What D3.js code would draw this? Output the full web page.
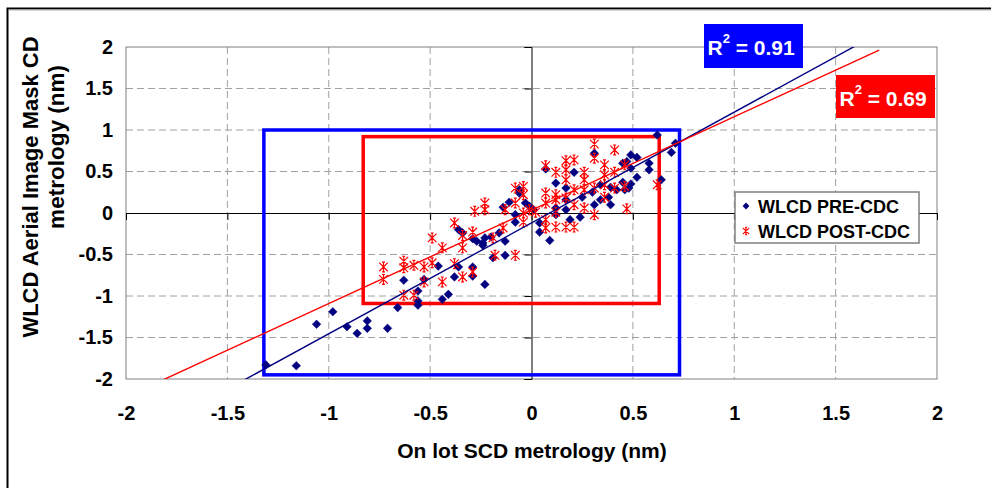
<!DOCTYPE html>
<html>
<head>
<meta charset="utf-8">
<script src="https://cdn.jsdelivr.net/npm/d3@7/dist/d3.min.js"></script>
<style>
  html, body { margin: 0; padding: 0; background: #fff; }
  svg { display: block; font-family: "Liberation Sans", Arial, sans-serif; }
  text { white-space: pre; }
</style>
</head>
<body>
<svg id="chart" width="991" height="488"></svg>
<script>
// ---------------- DATA ----------------
const xTicks = [-2, -1.5, -1, -0.5, 0, 0.5, 1, 1.5, 2];
const yTicks = [-2, -1.5, -1, -0.5, 0, 0.5, 1, 1.5, 2];

// WLCD PRE-CDC (navy diamonds)
const preX = [-1.31,-1.16,-1.06,-0.98,-0.91,-0.86,-0.81,-0.81,-0.71,-0.66,-0.63,-0.56,-0.56,-0.56,-0.53,-0.46,-0.44,-0.41,-0.38,-0.36,-0.29,-0.29,-0.23,-0.36,-0.34,-0.29,-0.27,-0.24,-0.23,-0.20,-0.16,-0.24,-0.13,-0.19,-0.13,-0.06,-0.11,-0.14,-0.03,-0.01,-0.08,-0.08,0.04,0.04,0.09,0.12,0.12,-0.06,0.07,0.12,0.17,0.17,0.17,0.19,0.24,0.21,0.25,0.30,0.31,0.31,0.34,0.34,0.38,0.39,0.39,0.42,0.45,0.46,0.48,0.49,0.45,0.47,0.49,0.52,0.49,0.52,0.58,0.58,0.64,0.62,0.71,0.69,0.01];
const preY = [-1.83,-1.84,-1.34,-1.19,-1.37,-1.45,-1.30,-1.39,-1.39,-1.14,-0.81,-0.94,-1.06,-1.11,-0.80,-0.64,-1.04,-0.98,-0.77,-0.65,-0.65,-0.76,-0.86,-0.20,-0.24,-0.31,-0.34,-0.36,-0.30,-0.29,-0.24,-0.39,-0.51,-0.54,-0.34,0.24,0.13,0.07,0.12,0.08,-0.02,-0.11,-0.12,-0.23,-0.33,0.06,-0.02,0.28,0.53,0.36,0.30,0.16,0.04,-0.08,-0.05,0.49,0.19,0.25,0.10,0.72,0.34,0.16,0.19,0.31,0.10,0.28,0.37,0.28,0.30,0.35,0.60,0.62,0.70,0.67,0.54,0.43,0.60,0.52,0.40,0.94,0.84,0.73,0.04];

// WLCD POST-CDC (red stars)
const postX = [-0.73,-0.73,-0.63,-0.63,-0.63,-0.58,-0.58,-0.53,-0.53,-0.49,-0.49,-0.44,-0.44,-0.38,-0.34,-0.29,-0.38,-0.34,-0.29,-0.34,-0.28,-0.23,-0.23,-0.19,-0.18,-0.13,-0.14,-0.08,-0.04,-0.04,-0.08,-0.01,0.02,-0.04,-0.04,-0.08,0.07,0.07,0.12,0.07,0.07,0.12,0.17,0.21,0.07,0.12,0.17,0.21,0.17,0.17,0.26,0.26,0.31,0.41,0.31,0.36,0.41,0.46,0.36,0.36,0.41,0.46,0.62,0.12,0.17,0.21,0.26,0.31,0.36,0.21,0.26,0.31,0.47,0.12];
const postY = [-0.65,-0.80,-0.58,-0.66,-0.99,-0.63,-0.99,-0.65,-0.83,-0.60,-0.30,-0.42,-0.83,-0.61,-0.77,-0.71,-0.12,-0.27,-0.23,-0.42,0.02,0.12,0.04,-0.30,-0.51,0.04,-0.18,0.30,0.32,0.22,0.12,0.04,0.01,0.00,-0.11,-0.51,0.24,0.12,0.16,-0.08,-0.18,-0.17,-0.17,-0.17,0.57,0.49,0.63,0.64,0.52,0.40,0.49,0.40,0.83,0.76,0.66,0.58,0.49,0.58,0.46,0.34,0.30,0.32,0.34,0.22,0.18,0.28,0.28,0.30,0.19,0.10,0.06,-0.02,0.05,0.01];

// Linear trendlines (slope, intercept) and R² labels
const preFit = [1.335, -0.12];
const postFit = [1.125, 0.034];
const fitRange = [-1.95, 1.715];
const preR2 = "0.91";
const postR2 = "0.69";

// Highlight boxes in data units [x0, x1, y0, y1]
const preBox = [-1.32, 0.73, -1.95, 1.0];
const postBox = [-0.83, 0.63, -1.09, 0.92];

const seriesNames = ["WLCD PRE-CDC", "WLCD POST-CDC"];

// ---------------- DRAW ----------------
const svg = d3.select("#chart");
const L = 126, R = 937, T = 47, B = 379;
const x = d3.scaleLinear().domain([-2, 2]).range([L, R]);
const y = d3.scaleLinear().domain([-2, 2]).range([B, T]);
const NAVY = "#000080", RED = "#FF0000", BLUE = "#0000FF";

svg.append("rect").attr("width", 991).attr("height", 488).attr("fill", "#fff");

// outer frame
svg.append("path").attr("d", "M7.5,488 V8.5 H991").attr("fill", "none").attr("stroke", "#000").attr("stroke-width", 2);
svg.append("line").attr("x1", 8.5).attr("x2", 991).attr("y1", 10).attr("y2", 10).attr("stroke", "#b0b0b0").attr("stroke-width", 1);

// gridlines
const grid = svg.append("g");
xTicks.filter(v => Math.abs(v) !== 2 && v !== 0).forEach(v => {
  grid.append("line").attr("x1", x(v)).attr("x2", x(v)).attr("y1", T).attr("y2", B)
    .attr("stroke", "#a0a0a0").attr("stroke-width", 1).attr("stroke-dasharray", "7,4");
});
yTicks.filter(v => Math.abs(v) !== 2 && v !== 0).forEach(v => {
  grid.append("line").attr("x1", L).attr("x2", R).attr("y1", y(v)).attr("y2", y(v))
    .attr("stroke", "#a0a0a0").attr("stroke-width", 1).attr("stroke-dasharray", "7,4");
});

// plot border
svg.append("rect").attr("x", L).attr("y", T).attr("width", R - L).attr("height", B - T)
  .attr("fill", "none").attr("stroke", "#808080").attr("stroke-width", 1);

// zero axes with ticks
const xAxisZero = d3.axisBottom(x).tickValues(xTicks).tickSize(7).tickFormat("");
const gx0 = svg.append("g").attr("transform", `translate(0,${y(0)})`).call(xAxisZero);
gx0.selectAll("path,line").attr("stroke", "#000").attr("stroke-width", 1);
const yAxisZero = d3.axisLeft(y).tickValues(yTicks).tickSize(7).tickFormat("");
const gy0 = svg.append("g").attr("transform", `translate(${x(0)},0)`).call(yAxisZero);
gy0.selectAll("path,line").attr("stroke", "#000").attr("stroke-width", 1);

// tick labels
const gxl = svg.append("g").attr("transform", `translate(0,${B})`)
  .call(d3.axisBottom(x).tickValues(xTicks).tickSize(0).tickPadding(27).tickFormat(d => String(d)));
gxl.select(".domain").remove();
gxl.selectAll("text").attr("font-size", 20).attr("font-weight", "bold").attr("fill", "#000")
  .attr("font-family", "Liberation Sans, Arial, sans-serif");
const gyl = svg.append("g").attr("transform", `translate(${L},0)`)
  .call(d3.axisLeft(y).tickValues(yTicks).tickSize(0).tickPadding(13).tickFormat(d => String(d)));
gyl.select(".domain").remove();
gyl.selectAll("text").attr("font-size", 20).attr("font-weight", "bold").attr("fill", "#000")
  .attr("font-family", "Liberation Sans, Arial, sans-serif");

// axis titles
svg.append("text").attr("x", 532).attr("y", 458).attr("text-anchor", "middle")
  .attr("font-size", 21).attr("font-weight", "bold").text("On lot SCD metrology (nm)");
svg.append("text").attr("transform", "translate(38,187) rotate(-90)").attr("text-anchor", "middle")
  .attr("font-size", 22).attr("font-weight", "bold").text("WLCD Aerial Image Mask CD");
svg.append("text").attr("transform", "translate(64,147) rotate(-90)").attr("text-anchor", "middle")
  .attr("font-size", 22.5).attr("font-weight", "bold").text("metrology (nm)");

// highlight boxes
function box(b, color) {
  svg.append("rect").attr("x", x(b[0])).attr("y", y(b[3]))
    .attr("width", x(b[1]) - x(b[0])).attr("height", y(b[2]) - y(b[3]))
    .attr("fill", "none").attr("stroke", color).attr("stroke-width", 3.5);
}
box(preBox, BLUE);
box(postBox, RED);

// markers
const diamond = s => `M0,${-s}L${s},0L0,${s}L${-s},0Z`;
const star = s => `M${-s},${-s}L${s},${s}M${s},${-s}L${-s},${s}M0,${-s - 0.6}L0,${s + 0.6}M${-s * 0.35},${-s - 0.6}L${s * 0.35},${-s - 0.6}M${-s * 0.35},${s + 0.6}L${s * 0.35},${s + 0.6}`;

const preData = preX.map((v, i) => [v, preY[i]]);
const postData = postX.map((v, i) => [v, postY[i]]);

svg.append("g").selectAll("path").data(preData).join("path")
  .attr("transform", d => `translate(${x(d[0])},${y(d[1])})`)
  .attr("d", diamond(4.3)).attr("fill", NAVY).attr("stroke", NAVY).attr("stroke-width", 0.5);

svg.append("g").selectAll("path").data(postData).join("path")
  .attr("transform", d => `translate(${x(d[0])},${y(d[1])})`)
  .attr("d", star(4.3)).attr("fill", "none").attr("stroke", RED).attr("stroke-width", 1.2);

// trendlines
svg.append("clipPath").attr("id", "plotclip").append("rect")
  .attr("x", L).attr("y", T).attr("width", R - L).attr("height", B - T);
const line = d3.line().x(d => x(d[0])).y(d => y(d[1]));
function trend(fit, color) {
  const pts = fitRange.map(v => [v, fit[0] * v + fit[1]]);
  svg.append("path").attr("d", line(pts)).attr("fill", "none").attr("stroke", color)
    .attr("stroke-width", 1.4).attr("clip-path", "url(#plotclip)");
}
trend(preFit, NAVY);
trend(postFit, RED);

// R² labels
function r2label(bx, by, bw, bh, color, val) {
  svg.append("rect").attr("x", bx).attr("y", by).attr("width", bw).attr("height", bh).attr("fill", color);
  const t = svg.append("text").attr("x", bx + 3.5).attr("y", by + 31).attr("font-size", 21)
    .attr("font-weight", "bold").attr("fill", "#fff");
  t.append("tspan").text("R");
  t.append("tspan").attr("dy", -12).attr("font-size", 13).text("2");
  t.append("tspan").attr("dy", 12).text(" = " + val);
}
r2label(704, 24, 99, 44, BLUE, preR2);
r2label(836, 75, 99, 43, RED, postR2);

// legend
const lg = svg.append("g");
lg.append("rect").attr("x", 735).attr("y", 192).attr("width", 184).attr("height", 51)
  .attr("fill", "#fff").attr("stroke", "#808080").attr("stroke-width", 1.5);
lg.append("path").attr("transform", "translate(746,206)").attr("d", diamond(3.4)).attr("fill", NAVY);
lg.append("path").attr("transform", "translate(746,231)").attr("d", star(3.2)).attr("fill", "none")
  .attr("stroke", RED).attr("stroke-width", 1.1);
lg.append("text").attr("x", 758).attr("y", 213).attr("font-size", 18).attr("font-weight", "bold").text(seriesNames[0]);
lg.append("text").attr("x", 758).attr("y", 238).attr("font-size", 18).attr("font-weight", "bold").text(seriesNames[1]);
</script>
</body>
</html>
